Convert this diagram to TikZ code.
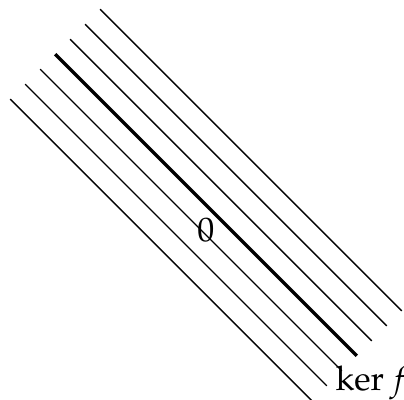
\documentclass[tikz,border=0pt]{standalone}
\usepackage{amsmath}
\usepackage{mathpazo}
\begin{document}
\begin{tikzpicture}[
  fibre/.style={line width=0.4pt},
  kernel/.style={line width=1pt}
]
  \useasboundingbox (-2.13,-2.016) rectangle (2.048,2.12);
  % parallel translates of the kernel
  \foreach \i in {-3,-2,-1,1,2,3}
    \draw[fibre] ({-1.56+0.155*\i},{1.56+0.155*\i}) -- ({1.56+0.155*\i},{-1.56+0.155*\i});
  \coordinate (a) at (-1.56,1.56);
  \coordinate (b) at (1.56,-1.56);
  \draw[kernel] (a) -- node[below] (zero) {$0$} (b);
  \node (ker) at (1.72,-1.84) {$\ker f$};
\end{tikzpicture}
\end{document}
